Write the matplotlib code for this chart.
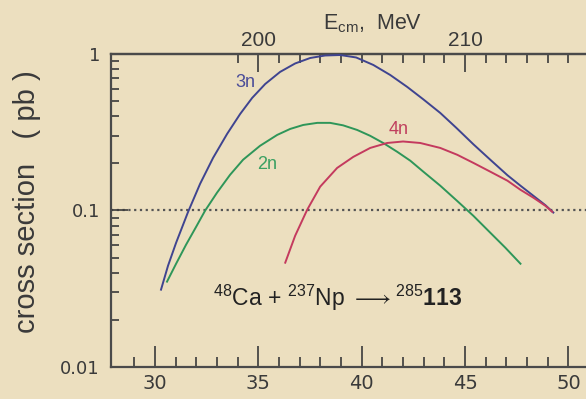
import numpy as np
import matplotlib
matplotlib.use("Agg")
import matplotlib.pyplot as plt
from matplotlib.ticker import FixedLocator, FixedFormatter, NullFormatter

plt.rcParams['font.family'] = ['Liberation Sans', 'DejaVu Sans']
plt.rcParams['mathtext.fontset'] = 'custom'
plt.rcParams['mathtext.rm'] = 'Liberation Sans'
plt.rcParams['mathtext.bf'] = 'Liberation Sans:bold'

# excitation energy E* (MeV) and cross sections (pb) for each evaporation channel
e_3n = [30.29, 30.63, 31.02, 31.60, 32.18, 32.81, 33.49, 34.12, 34.70, 35.33,
        36.05, 36.78, 37.51, 38.23, 38.96, 39.73, 40.56, 41.38, 42.20, 42.98,
        43.80, 44.58, 45.40, 46.22, 47.05, 47.68, 48.31, 48.89, 49.27]
s_3n = [0.0312, 0.0444, 0.0622, 0.098, 0.148, 0.217, 0.309, 0.414, 0.524, 0.643,
        0.768, 0.870, 0.943, 0.978, 0.985, 0.950, 0.851, 0.734, 0.616, 0.513,
        0.420, 0.337, 0.265, 0.211, 0.168, 0.144, 0.124, 0.108, 0.097]

e_2n = [30.58, 31.02, 31.50, 31.99, 32.42, 33.00, 33.63, 34.26, 35.08, 35.91,
        36.54, 37.17, 37.85, 38.47, 39.10, 39.78, 40.41, 41.04, 41.72, 42.35,
        42.98, 43.80, 44.62, 45.40, 46.22, 46.95, 47.68]
s_2n = [0.0351, 0.0457, 0.0604, 0.0787, 0.0996, 0.130, 0.169, 0.211, 0.259, 0.304,
        0.332, 0.352, 0.363, 0.363, 0.350, 0.327, 0.300, 0.270, 0.237, 0.208,
        0.177, 0.144, 0.115, 0.0925, 0.0721, 0.0578, 0.0457]

e_4n = [36.30, 36.78, 37.36, 37.99, 38.81, 39.59, 40.41, 41.23, 42.00, 42.83,
        43.80, 44.62, 45.40, 46.22, 47.05, 47.68, 48.31, 48.89, 49.22]
s_4n = [0.0464, 0.069, 0.101, 0.142, 0.187, 0.220, 0.251, 0.270, 0.276, 0.270,
        0.251, 0.227, 0.2015, 0.177, 0.155, 0.1356, 0.1206, 0.107, 0.098]

x_major = [30, 35, 40, 45, 50]
x_minor = [29, 31, 32, 33, 34, 36, 37, 38, 39, 41, 42, 43, 44, 46, 47, 48, 49]
y_major = [0.01, 0.1, 1]
y_labels = ['0.01', '0.1', '1']
ecm_major = [200, 210]
ecm_minor = [199, 201, 202, 203, 204, 205, 206, 207, 208, 209, 211, 212, 213, 214, 215]
ecm_offset = 165.0

bg = '#ECDFBF'
ink = '#3a3a3a'
c3 = '#3F4490'
c2 = '#2E9659'
c4 = '#C43A5E'

fig = plt.figure(figsize=(5.86, 3.99), dpi=100, facecolor=bg)
ax = fig.add_axes([0.1894, 0.0802, 0.8106, 0.7845], facecolor=bg)

ax.set_yscale('log')
ax.set_xlim(27.87, 50.85)
ax.set_ylim(0.01, 1)

ax.axhline(0.1, color='#555555', lw=1.6, ls=(0, (1, 1.6)), zorder=1)

ax.plot(e_3n, s_3n, color=c3, lw=1.4, zorder=3)
ax.plot(e_2n, s_2n, color=c2, lw=1.4, zorder=3)
ax.plot(e_4n, s_4n, color=c4, lw=1.4, zorder=3)

ax.text(34.36, 0.66, '3n', color='#4A4C98', fontsize=13, ha='center', va='center')
ax.text(35.41, 0.196, '2n', color='#3AA062', fontsize=13, ha='center', va='center')
ax.text(41.78, 0.327, '4n', color='#C0405E', fontsize=13, ha='center', va='center')

ax.text(32.8, 0.0244,
        r'$^{48}$Ca + $^{237}$Np $\longrightarrow$$^{285}$$\mathbf{113}$',
        color='#222222', fontsize=16.5, ha='left', va='baseline')

for side in ['left', 'bottom', 'top']:
    ax.spines[side].set_color('#4a4a4a')
    ax.spines[side].set_linewidth(1.6)
ax.spines['right'].set_visible(False)

ax.xaxis.set_major_locator(FixedLocator(x_major))
ax.xaxis.set_minor_locator(FixedLocator(x_minor))
ax.yaxis.set_major_locator(FixedLocator(y_major))
ax.yaxis.set_major_formatter(FixedFormatter(y_labels))
ax.yaxis.set_minor_formatter(NullFormatter())

ax.tick_params(axis='x', which='major', direction='in', length=15, width=1.2,
               color='#3a3a3a', labelsize=14, labelcolor=ink, pad=5, top=False)
ax.tick_params(axis='x', which='minor', direction='in', length=7, width=1.2,
               color='#3a3a3a', top=False)
ax.tick_params(axis='y', which='major', direction='in', length=12, width=1.2,
               color='#3a3a3a', labelsize=13, labelcolor=ink, pad=8, right=False)
ax.tick_params(axis='y', which='minor', direction='in', length=6, width=1.2,
               color='#3a3a3a', right=False)
for lab in ax.get_xticklabels() + ax.get_yticklabels():
    lab.set_family('DejaVu Sans')

# centre-of-mass energy along the top
top = ax.secondary_xaxis('top', functions=(lambda e: e + ecm_offset,
                                           lambda e: e - ecm_offset))
top.spines['top'].set_color('#4a4a4a')
top.spines['top'].set_linewidth(1.6)
top.xaxis.set_major_locator(FixedLocator(ecm_major))
top.xaxis.set_minor_locator(FixedLocator(ecm_minor))
top.tick_params(which='major', direction='in', length=13, width=1.2,
                color='#3a3a3a', labelsize=15, labelcolor=ink, pad=3)
top.tick_params(which='minor', direction='in', length=6.5, width=1.2,
                color='#3a3a3a')

fig.text(323 / 586, 1 - 29 / 399, r'E$_{\rm cm}$,  MeV', fontsize=15.5,
         color=ink, ha='left', va='baseline')

fig.text(27 / 586, 1 - 202 / 399, 'cross section   ( pb )', fontsize=21,
         color=ink, rotation=90, ha='center', va='center')

fig.savefig('out.png', dpi=100, facecolor=bg)
